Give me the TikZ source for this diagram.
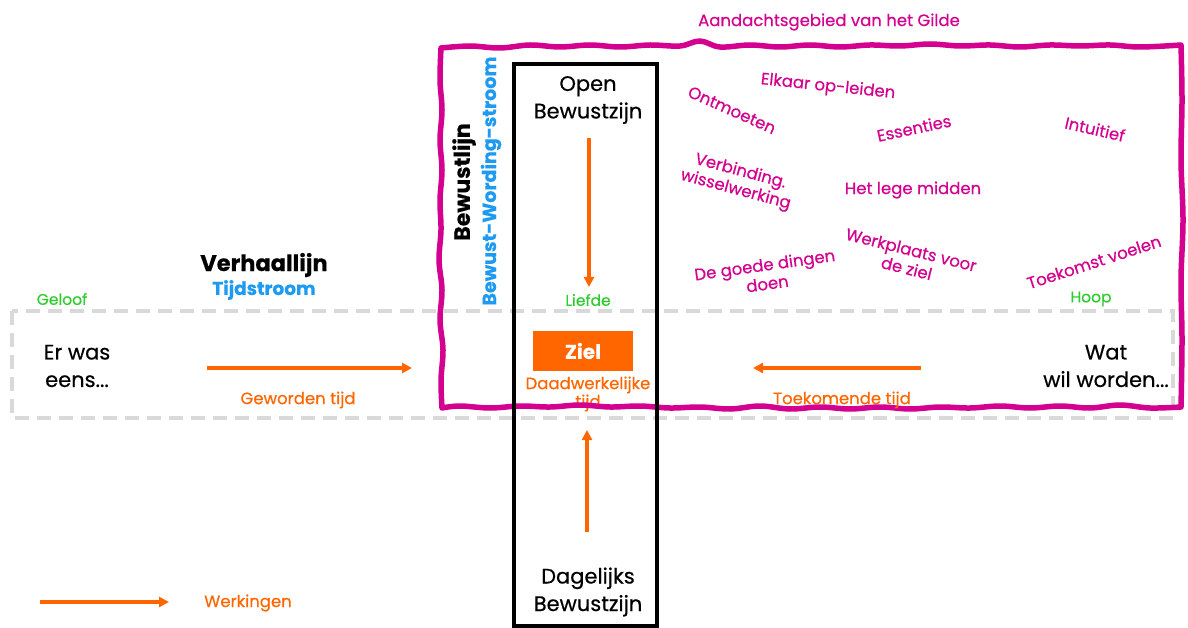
\documentclass[tikz,border=0pt]{standalone}
\usepackage{fontspec}
\setmainfont{Poppins}[FakeBold=0.5]
\usetikzlibrary{arrows.meta}
\definecolor{mag}{HTML}{D4008F}
\definecolor{org}{HTML}{FF6600}
\definecolor{grn}{HTML}{2ECC2E}
\definecolor{blu}{HTML}{1E9BF0}
\definecolor{gry}{HTML}{D9D9D9}
\tikzset{
  orange arrow/.style={draw=org, line width=3.2pt, -{Triangle[length=10pt,width=10pt]}},
  magtxt/.style={text=mag, font=\fontsize{16.5}{19}\selectfont, align=center, inner sep=0pt},
  blk/.style={text=black, font=\fontsize{21}{27.5}\selectfont, align=center, inner sep=0pt},
  orgtxt/.style={text=org, font=\fontsize{16.5}{18}\selectfont, align=center, inner sep=0pt},
  grntxt/.style={text=grn, font=\fontsize{15.5}{17}\selectfont, inner sep=0pt},
}
\begin{document}
\begin{tikzpicture}[x=1pt,y=-1pt]
\useasboundingbox (0,0) rectangle (1188,628);
% dashed time stream
\draw[gry, line width=4pt, dash pattern=on 14pt off 8pt] (12,311) rectangle (1173,418);
% Daadwerkelijke tijd (behind magenta border)
\node[orgtxt] (daad) at (588,394) {Daadwerkelijke\\tijd};
% magenta attention area
\draw[mag, line width=5.5pt, line join=round]
  plot[smooth, tension=0.6] coordinates {(441,48) (470,46) (500,48) (530,45) (560,47) (590,45) (620,47) (650,45) (680,46) (700,41) (720,47) (750,45) (780,47) (810,45) (840,47) (870,45) (900,46) (930,44) (960,46) (990,45) (1020,47) (1050,45) (1080,46) (1110,45) (1140,47) (1181,45)}
  -- plot[smooth, tension=0.6] coordinates {(1181,45) (1182,100) (1181,160) (1183,220) (1181,280) (1182,340) (1181,407)}
  -- plot[smooth, tension=0.6] coordinates {(1181,407) (1150,408) (1120,405) (1090,408) (1060,406) (1030,408) (1000,406) (970,408) (940,407) (910,409) (880,407) (850,409) (820,407) (790,409) (760,406) (730,409) (700,407) (670,408) (640,406) (610,407) (580,405) (550,407) (520,406) (490,408) (460,406) (442,408)}
  -- plot[smooth, tension=0.6] coordinates {(442,408) (441,380) (443,350) (440,320) (442,290) (439,260) (441,230) (440,200) (442,170) (440,140) (442,110) (440,80) (441,48)}
  -- cycle;
% black consciousness box
\draw[black, line width=4pt] (514,626) -- (514,64) -- (657,64) -- (657,626) -- cycle;
% texts in column
\node[blk] (open) at (588,100) {Open\\Bewustzijn};
\node[grntxt] (liefde) at (588,300) {Liefde};
\node[fill=org, minimum width=100pt, minimum height=40pt, inner sep=0pt, text=white, font=\fontsize{20}{22}\selectfont\bfseries] (ziel) at (583,351) {Ziel};
\node[blk] (dag) at (588,592) {Dagelijks\\Bewustzijn};
\coordinate (o1) at (589,138); \coordinate (o2) at (589,287);
\draw[orange arrow] (o1) -- (o2);
\coordinate (d1) at (587,532); \coordinate (d2) at (587,430);
\draw[orange arrow] (d1) -- (d2);
% vertical labels
\node[rotate=90, font=\fontsize{22}{26}\selectfont\bfseries, inner sep=0pt] (bl) at (464,182) {Bewustlijn};
\node[rotate=90, text=blu, font=\fontsize{19}{22}\selectfont\bfseries, inner sep=0pt] (bws) at (491,181) {Bewust-Wording-stroom};
% time line
\node[font=\fontsize{22.5}{25}\selectfont\bfseries, inner sep=0pt] (verh) at (264,265) {Verhaallijn};
\node[text=blu, font=\fontsize{18.5}{21}\selectfont\bfseries, inner sep=0pt] (tijd) at (264,290) {Tijdstroom};
\node[grntxt] (geloof) at (62,299) {Geloof};
\node[grntxt] (hoop) at (1091,299) {Hoop};
\node[blk] (er) at (77,366) {Er was\\eens...};
\node[blk] (wat) at (1106,366) {Wat\\wil worden...};
\coordinate (g1) at (207,368); \coordinate (g2) at (412,368);
\draw[orange arrow] (g1) -- (g2);
\node[orgtxt] (geworden) at (298,400) {Geworden tijd};
\coordinate (t1) at (921,368); \coordinate (t2) at (753,368);
\draw[orange arrow] (t1) -- (t2);
\node[orgtxt] (toek) at (842,400) {Toekomende tijd};
% legend
\coordinate (l1) at (40,602); \coordinate (l2) at (169,602);
\draw[orange arrow] (l1) -- (l2);
\node[orgtxt] (werk) at (248,603) {Werkingen};
% attention area texts
\node[magtxt] (title) at (829,22) {Aandachtsgebied van het Gilde};
\node[magtxt, rotate=-6] (elk) at (828,87) {Elkaar op-leiden};
\node[magtxt, rotate=-24] (ontm) at (732,110) {Ontmoeten};
\node[magtxt, rotate=12] (ess) at (914,128) {Essenties};
\node[magtxt, rotate=-13] (intu) at (1095,129) {Intuitief};
\node[magtxt, rotate=-15] (verb) at (738,181) {Verbinding.\\wisselwerking};
\node[magtxt] (lege) at (913,190) {Het lege midden};
\node[magtxt, rotate=8] (goede) at (766,274) {De goede dingen\\doen};
\node[magtxt, rotate=-14] (werkpl) at (909,259) {Werkplaats voor\\de ziel};
\node[magtxt, rotate=18] (toekv) at (1094,262) {Toekomst voelen};
\end{tikzpicture}
\end{document}
